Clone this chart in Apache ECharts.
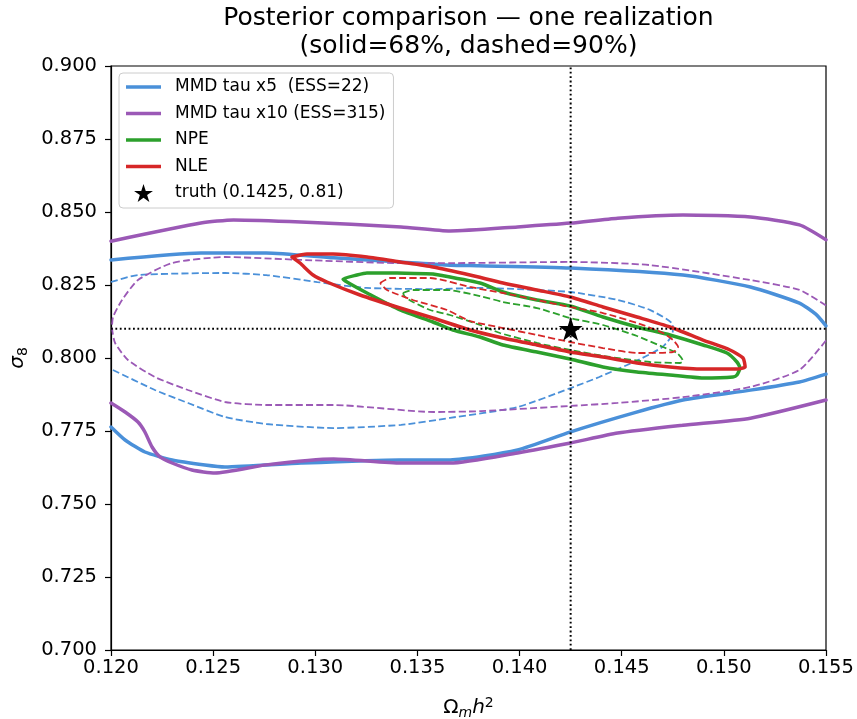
<!DOCTYPE html>
<html>
<head>
<meta charset="utf-8">
<script src="https://cdn.jsdelivr.net/npm/echarts@6/dist/echarts.min.js"></script>
<style>
html, body { margin: 0; padding: 0; background: #ffffff; }
#chart { width: 857px; height: 719px; }
</style>
</head>
<body>
<div id="chart"></div>
<script>
// Axis ranges and tick spacing
const xRange = [0.120, 0.155];
const xStep = 0.005;
const yRange = [0.700, 0.900];
const yStep = 0.025;

// True parameter values (Omega_m h^2, sigma_8)
const truth = [0.1425, 0.81];

// MMD tau x5 — solid contour (clipped by the frame: upper and lower branches)
const mmd5SolidUpper = [
  [0.1200, 0.8336], [0.1244, 0.8360], [0.1276, 0.8360], [0.1309, 0.8343],
  [0.1342, 0.8329], [0.1366, 0.8318], [0.1380, 0.8316], [0.1425, 0.8308],
  [0.1480, 0.8284], [0.1513, 0.8243], [0.1537, 0.8188], [0.1545, 0.8150],
  [0.1550, 0.8110]
];
const mmd5SolidLower = [
  [0.1550, 0.7945], [0.1537, 0.7918], [0.1513, 0.7890], [0.1480, 0.7856],
  [0.1456, 0.7812], [0.1425, 0.7747], [0.1399, 0.7685], [0.1366, 0.7651],
  [0.1341, 0.7651], [0.1293, 0.7640], [0.12558, 0.76267], [0.12460, 0.76336],
  [0.12299, 0.76507], [0.12166, 0.76781], [0.12069, 0.77192], [0.1200, 0.77637]
];

// MMD tau x10 — solid contour
const mmd10SolidUpper = [
  [0.1200, 0.8400], [0.1244, 0.8462], [0.1260, 0.8473], [0.1293, 0.8466],
  [0.1342, 0.8449], [0.1366, 0.8435], [0.1399, 0.8449], [0.1425, 0.8462],
  [0.1448, 0.8479], [0.1480, 0.8490], [0.1513, 0.8483], [0.1537, 0.8456],
  [0.1550, 0.8405]
];
const mmd10SolidLower = [
  [0.1550, 0.7856], [0.1513, 0.7794], [0.1480, 0.7770], [0.1448, 0.7743],
  [0.1425, 0.7709], [0.1399, 0.7675], [0.1366, 0.7640], [0.1342, 0.7640],
  [0.1309, 0.7654], [0.1276, 0.7634], [0.12509, 0.76062], [0.12396, 0.76164],
  [0.12299, 0.76404], [0.12240, 0.76610], [0.12201, 0.76952], [0.12166, 0.77466],
  [0.12132, 0.77808], [0.12069, 0.78151], [0.1200, 0.78459]
];

// MMD tau x5 — dashed contour (opens onto the left edge)
const mmd5Dashed = [
  [0.1200, 0.82603], [0.12132, 0.82842], [0.12558, 0.82911], [0.1276, 0.8284],
  [0.1301, 0.8260], [0.1325, 0.8240], [0.1358, 0.8236], [0.1380, 0.8240],
  [0.1399, 0.8236], [0.1425, 0.8226], [0.1448, 0.8199], [0.1464, 0.8164],
  [0.1475, 0.8113], [0.1475, 0.8086], [0.1470, 0.8038], [0.1458, 0.7993],
  [0.1439, 0.7935], [0.1425, 0.7897], [0.1399, 0.7832], [0.1366, 0.7795],
  [0.1342, 0.7771], [0.1309, 0.7760], [0.1276, 0.7774], [0.12558, 0.77979],
  [0.12377, 0.78459], [0.12215, 0.78904], [0.1200, 0.79623]
];

// MMD tau x10 — dashed contour (opens onto the right edge)
const mmd10Dashed = [
  [0.1550, 0.8180], [0.1537, 0.8233], [0.1513, 0.8267], [0.1464, 0.8318],
  [0.1425, 0.8329], [0.1366, 0.8325], [0.1342, 0.8325], [0.1293, 0.8336],
  [0.12558, 0.83459], [0.12299, 0.83253], [0.12132, 0.82671], [0.12054, 0.81986],
  [0.12010, 0.81404], [0.12005, 0.81062], [0.12020, 0.80514], [0.12083, 0.79932],
  [0.12215, 0.79349], [0.12377, 0.78904], [0.12558, 0.78493], [0.12764, 0.78390],
  [0.1309, 0.7839], [0.1358, 0.7815], [0.1381, 0.7818], [0.1425, 0.7836],
  [0.1448, 0.7846], [0.1480, 0.7866], [0.1513, 0.7901], [0.1537, 0.7959],
  [0.1550, 0.8060]
];

// NPE — solid contour (closed)
const npeSolid = [
  [0.13576, 0.82877], [0.13806, 0.82568], [0.13919, 0.82260], [0.14085, 0.81986],
  [0.14247, 0.81781], [0.14408, 0.81404], [0.14575, 0.81062], [0.14736, 0.80788],
  [0.14898, 0.80445], [0.15015, 0.80171], [0.15064, 0.79863], [0.15079, 0.79658],
  [0.15064, 0.79418], [0.15045, 0.79349], [0.14898, 0.79315], [0.14736, 0.79418],
  [0.14575, 0.79521], [0.14408, 0.79692], [0.14247, 0.79966], [0.14085, 0.80205],
  [0.13919, 0.80445], [0.13806, 0.80719], [0.13674, 0.80959], [0.13576, 0.81233],
  [0.13415, 0.81644], [0.13253, 0.82226], [0.13155, 0.82603], [0.13136, 0.82705],
  [0.13204, 0.82842], [0.13253, 0.82911], [0.13400, 0.82911], [0.13576, 0.82877]
];

// NLE — solid contour (closed)
const nleSolid = [
  [0.12886, 0.83459], [0.12959, 0.83562], [0.13087, 0.83562], [0.13253, 0.83459],
  [0.13415, 0.83288], [0.13576, 0.83116], [0.13757, 0.82842], [0.13919, 0.82568],
  [0.14085, 0.82329], [0.14247, 0.82089], [0.14408, 0.81747], [0.14575, 0.81404],
  [0.14736, 0.81062], [0.14898, 0.80616], [0.15030, 0.80274], [0.15094, 0.80000],
  [0.15104, 0.79692], [0.15064, 0.79623], [0.14898, 0.79623], [0.14736, 0.79692],
  [0.14575, 0.79829], [0.14408, 0.80034], [0.14247, 0.80205], [0.14085, 0.80445],
  [0.13919, 0.80685], [0.13757, 0.80959], [0.13576, 0.81370], [0.13415, 0.81712],
  [0.13219, 0.82158], [0.13057, 0.82603], [0.12989, 0.82842], [0.12925, 0.83253],
  [0.12886, 0.83459]
];

// NPE — dashed contour (closed)
const npeDashed = [
  [0.13429, 0.82226], [0.13478, 0.82329], [0.13645, 0.82329], [0.13806, 0.82123],
  [0.13919, 0.81918], [0.14085, 0.81712], [0.14247, 0.81370], [0.14408, 0.81130],
  [0.14575, 0.80753], [0.14702, 0.80377], [0.14771, 0.80171], [0.14800, 0.79897],
  [0.14785, 0.79829], [0.14638, 0.79863], [0.14443, 0.80034], [0.14247, 0.80274],
  [0.14085, 0.80514], [0.13904, 0.80856], [0.13806, 0.81130], [0.13659, 0.81473],
  [0.13562, 0.81644], [0.13478, 0.81918], [0.13439, 0.82089], [0.13429, 0.82226]
];

// NLE — dashed contour (closed)
const nleDashed = [
  [0.13317, 0.82568], [0.13366, 0.82740], [0.13562, 0.82740], [0.13757, 0.82432],
  [0.13919, 0.82226], [0.14085, 0.81986], [0.14247, 0.81747], [0.14408, 0.81541],
  [0.14575, 0.81199], [0.14702, 0.80856], [0.14751, 0.80616], [0.14776, 0.80377],
  [0.14751, 0.80205], [0.14575, 0.80171], [0.14408, 0.80342], [0.14247, 0.80548],
  [0.14085, 0.80788], [0.13919, 0.81027], [0.13757, 0.81267], [0.13645, 0.81644],
  [0.13478, 0.81986], [0.13351, 0.82329], [0.13317, 0.82568]
];

const names = {
  mmd5: 'MMD tau x5  (ESS=22)',
  mmd10: 'MMD tau x10 (ESS=315)',
  npe: 'NPE',
  nle: 'NLE',
  truth: 'truth (0.1425, 0.81)'
};

const colors = {
  mmd5: '#4a90d9',
  mmd10: '#9b59b6',
  npe: '#2ca02c',
  nle: '#d62728'
};

const FONT = '"DejaVu Sans", sans-serif';
const STAR = 'path://M50,0 L61.23,34.55 L97.55,34.55 L68.16,55.9 L79.39,90.45 L50,69.1 L20.61,90.45 L31.84,55.9 L2.45,34.55 L38.77,34.55 Z';
const LEGEND_LINE = 'path://M0,0 L35,0 L35,3.5 L0,3.5 Z';

function contour(name, data, color, dashed, z) {
  return {
    name: name,
    type: 'line',
    data: data,
    symbol: 'none',
    showSymbol: false,
    smooth: 0.2,
    clip: true,
    z: z,
    itemStyle: { color: color },
    lineStyle: dashed
      ? { color: color, width: 1.8, type: [7, 3.2] }
      : { color: color, width: 3.5, type: 'solid', cap: 'round', join: 'round' },
    emphasis: { disabled: true },
    silent: true
  };
}

function crossLine(data) {
  return {
    name: 'truth-line',
    type: 'line',
    data: data,
    symbol: 'none',
    showSymbol: false,
    z: 10,
    lineStyle: { color: '#000', width: 2, type: [1.8, 2.6] },
    silent: true
  };
}

const series = [
  contour(names.mmd5, mmd5SolidUpper, colors.mmd5, false, 3),
  contour(names.mmd5 + ' lower', mmd5SolidLower, colors.mmd5, false, 3),
  contour(names.mmd10, mmd10SolidUpper, colors.mmd10, false, 3),
  contour(names.mmd10 + ' lower', mmd10SolidLower, colors.mmd10, false, 3),
  contour(names.npe, npeSolid, colors.npe, false, 4),
  contour(names.nle, nleSolid, colors.nle, false, 5),
  contour(names.mmd5 + ' 90', mmd5Dashed, colors.mmd5, true, 3),
  contour(names.mmd10 + ' 90', mmd10Dashed, colors.mmd10, true, 3),
  contour(names.npe + ' 90', npeDashed, colors.npe, true, 4),
  contour(names.nle + ' 90', nleDashed, colors.nle, true, 5),
  crossLine([[truth[0], yRange[0]], [truth[0], yRange[1]]]),
  crossLine([[xRange[0], truth[1]], [xRange[1], truth[1]]]),
  {
    name: names.truth,
    type: 'scatter',
    data: [truth],
    symbol: STAR,
    symbolSize: 24,
    itemStyle: { color: '#000', opacity: 1 },
    z: 20,
    silent: true
  }
];

const chart = echarts.init(document.getElementById('chart'), null, { renderer: 'canvas' });
chart.setOption({
  animation: false,
  backgroundColor: '#ffffff',
  title: {
    text: 'Posterior comparison — one realization\n(solid=68%, dashed=90%)',
    left: 468.5,
    top: 4,
    textAlign: 'center',
    padding: 0,
    textStyle: { fontFamily: FONT, fontSize: 25, fontWeight: 'normal', color: '#000', lineHeight: 28 }
  },
  grid: {
    left: 111, right: 31, top: 66, bottom: 69,
    show: true, borderColor: '#000', borderWidth: 1.2, backgroundColor: 'transparent',
    containLabel: false,
    outerBoundsMode: 'none'
  },
  legend: {
    orient: 'vertical',
    left: 119,
    top: 73,
    padding: [5, 8, 6, 7],
    itemWidth: 35,
    itemHeight: 18,
    itemGap: 8.5,
    backgroundColor: 'rgba(255,255,255,0.8)',
    borderColor: '#cccccc',
    borderWidth: 1,
    borderRadius: 4,
    selectedMode: false,
    symbolKeepAspect: true,
    textStyle: { fontFamily: FONT, fontSize: 17, color: '#000', padding: [0, 0, 0, 9], lineHeight: 18 },
    data: [
      { name: names.mmd5, icon: LEGEND_LINE },
      { name: names.mmd10, icon: LEGEND_LINE },
      { name: names.npe, icon: LEGEND_LINE },
      { name: names.nle, icon: LEGEND_LINE },
      { name: names.truth, icon: STAR }
    ]
  },
  xAxis: {
    type: 'value',
    min: xRange[0],
    max: xRange[1],
    interval: xStep,
    name: '{o|Ω}{sub|m}{it|h}{sup|2}',
    nameLocation: 'middle',
    nameGap: 46,
    nameTextStyle: {
      fontFamily: FONT, fontSize: 20, color: '#000',
      rich: {
        o: { fontFamily: FONT, fontSize: 20, color: '#000', lineHeight: 24 },
        sub: { fontFamily: FONT, fontSize: 14, fontStyle: 'italic', color: '#000', lineHeight: 8, verticalAlign: 'bottom' },
        it: { fontFamily: FONT, fontSize: 20, fontStyle: 'italic', color: '#000', lineHeight: 24 },
        sup: { fontFamily: FONT, fontSize: 14, color: '#000', lineHeight: 8, verticalAlign: 'top' }
      }
    },
    splitLine: { show: false },
    axisLine: { show: true, onZero: false, lineStyle: { color: '#000', width: 1.2 } },
    axisTick: { show: true, inside: false, length: 6, lineStyle: { color: '#000', width: 1.2 } },
    axisLabel: {
      margin: 8,
      fontFamily: FONT, fontSize: 19.5, color: '#000',
      formatter: v => v.toFixed(3)
    }
  },
  yAxis: {
    type: 'value',
    min: yRange[0],
    max: yRange[1],
    interval: yStep,
    name: '{it|σ}{sub|8}',
    nameLocation: 'middle',
    nameRotate: 90,
    nameGap: 80,
    nameTextStyle: {
      fontFamily: FONT, fontSize: 20, color: '#000',
      rich: {
        it: { fontFamily: FONT, fontSize: 20, fontStyle: 'italic', color: '#000', lineHeight: 24 },
        sub: { fontFamily: FONT, fontSize: 14, color: '#000', lineHeight: 8, verticalAlign: 'bottom' }
      }
    },
    splitLine: { show: false },
    axisLine: { show: true, onZero: false, lineStyle: { color: '#000', width: 1.2 } },
    axisTick: { show: true, inside: false, length: 6, lineStyle: { color: '#000', width: 1.2 } },
    axisLabel: {
      margin: 14,
      fontFamily: FONT, fontSize: 19.5, color: '#000',
      formatter: v => v.toFixed(3)
    }
  },
  series: series
});
</script>
</body>
</html>
